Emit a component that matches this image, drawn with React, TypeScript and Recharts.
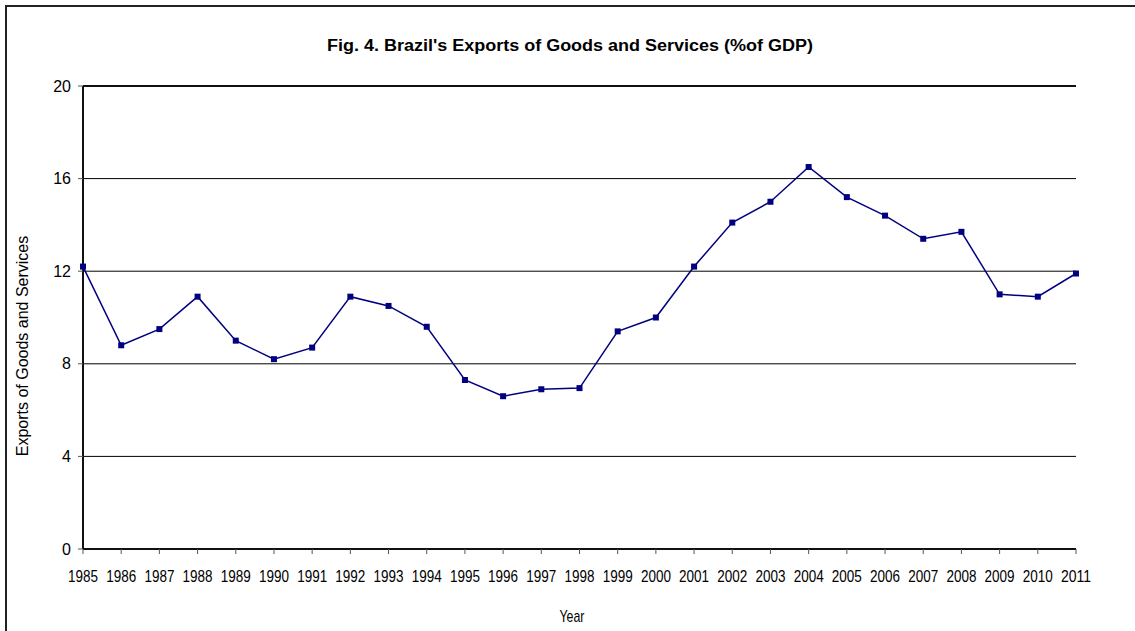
import React from 'react'
import { LineChart, Line, XAxis, YAxis, CartesianGrid, ReferenceLine, Customized } from 'recharts'

const years = ['1985', '1986', '1987', '1988', '1989', '1990', '1991', '1992', '1993', '1994', '1995', '1996', '1997', '1998', '1999', '2000', '2001', '2002', '2003', '2004', '2005', '2006', '2007', '2008', '2009', '2010', '2011']
const exportsPct = [12.2, 8.8, 9.5, 10.9, 9.0, 8.2, 8.7, 10.9, 10.5, 9.6, 7.3, 6.6, 6.9, 6.95, 9.4, 10.0, 12.2, 14.1, 15.0, 16.5, 15.2, 14.4, 13.4, 13.7, 11.0, 10.9, 11.9]
const yTicks = [0, 4, 8, 12, 16, 20]

const title = "Fig. 4. Brazil's Exports of Goods and Services (%of GDP)"
const yLabel = 'Exports of Goods and Services'
const xLabel = 'Year'

const data = years.map((year, i) => ({ year, value: exportsPct[i] }))

const FONT = '"Liberation Sans", Arial, sans-serif'
const NAVY = '#000080'

function SquareDot(props: any) {
  const { cx, cy } = props
  if (cx == null || cy == null) return null
  return <rect x={cx - 3} y={cy - 3} width={6} height={6} fill={NAVY} />
}

// year labels are drawn squeezed, like the narrow font of the original
function YearTick(props: any) {
  const { x, y, payload } = props
  return (
    <text x={x} y={y + 26} textAnchor="middle" fontSize={16} fontFamily={FONT} fill="#000" textLength={30} lengthAdjust="spacingAndGlyphs">
      {payload.value}
    </text>
  )
}

function Titles() {
  return (
    <g fontFamily={FONT} fill="#000">
      <text x={570} y={51} textAnchor="middle" fontSize={16} fontWeight="bold" textLength={486} lengthAdjust="spacingAndGlyphs">
        {title}
      </text>
      <text x={0} y={0} transform="translate(28,346) rotate(-90)" textAnchor="middle" fontSize={16}>
        {yLabel}
      </text>
      <text x={572} y={622} textAnchor="middle" fontSize={17} textLength={25} lengthAdjust="spacingAndGlyphs">
        {xLabel}
      </text>
    </g>
  )
}

export default function App() {
  return (
    <div style={{ position: 'absolute', left: 0, top: 0, width: 1135, height: 631, overflow: 'hidden', background: '#fff' }}>
      <LineChart width={1135} height={631} data={data} margin={{ top: 86, right: 59, bottom: 52, left: 23 }}>
        <CartesianGrid horizontal vertical={false} stroke="#000" strokeWidth={1} />
        <XAxis
          dataKey="year"
          interval={0}
          height={30}
          tickSize={5}
          tick={<YearTick />}
          tickLine={{ stroke: '#555' }}
          axisLine={{ stroke: '#111', strokeWidth: 2 }}
        />
        <YAxis
          domain={[0, 20]}
          ticks={yTicks}
          width={60}
          tickSize={5}
          tickMargin={7}
          tick={{ fill: '#000', fontSize: 16, fontFamily: FONT }}
          tickLine={{ stroke: '#555' }}
          axisLine={{ stroke: '#111', strokeWidth: 2 }}
        />
        <YAxis yAxisId="right" orientation="right" width={0} tick={false} tickLine={false} axisLine={{ stroke: '#444', strokeWidth: 2 }} />
        <ReferenceLine y={20} stroke="#111" strokeWidth={2} />
        <Line
          type="linear"
          dataKey="value"
          stroke={NAVY}
          strokeWidth={1.5}
          dot={<SquareDot />}
          activeDot={false}
          isAnimationActive={false}
        />
        <Customized component={Titles} />
      </LineChart>
      <div style={{ position: 'absolute', left: 5, top: 5, width: 1200, height: 700, border: '2px solid #222', pointerEvents: 'none' }} />
    </div>
  )
}
